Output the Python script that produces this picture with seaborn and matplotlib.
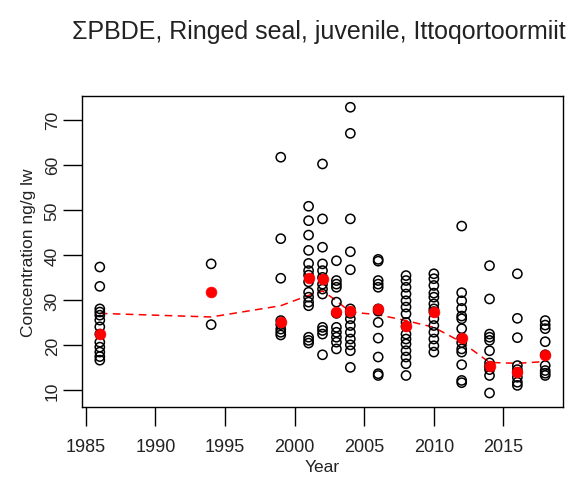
import seaborn as sns
import matplotlib
matplotlib.use("Agg")
import matplotlib.pyplot as plt
import pandas as pd

# individual samples per year (concentration ng/g lw)
obs_1986 = [37.3, 33.0, 28.0, 27.3, 26.6, 25.5, 24.0, 22.4, 20.6, 19.5, 18.4, 17.4, 16.6]
obs_1994 = [38.0, 24.5]
obs_1999 = [61.7, 43.6, 34.8, 25.4, 24.5, 23.5, 22.8, 22.2]
obs_2001 = [50.8, 47.6, 44.4, 41.0, 38.1, 36.5, 35.5, 34.0, 31.7, 30.6, 29.5, 28.7, 21.7, 21.0, 20.4]
obs_2002 = [60.2, 48.0, 41.7, 38.0, 36.5, 35.0, 33.5, 32.4, 31.3, 23.9, 23.2, 22.4, 17.8]
obs_2003 = [38.7, 34.3, 33.5, 32.8, 29.5, 27.0, 23.9, 22.8, 21.7, 20.6, 19.1]
obs_2004 = [72.8, 67.0, 48.0, 40.7, 36.7, 28.0, 27.0, 25.8, 24.3, 22.8, 21.3, 20.0, 18.7, 15.0]
obs_2006 = [39.0, 38.6, 34.3, 33.5, 32.8, 28.0, 27.5, 25.0, 21.5, 17.3, 13.6, 13.2]
obs_2008 = [35.4, 34.3, 32.8, 31.3, 29.8, 28.4, 26.9, 25.0, 24.1, 22.4, 21.3, 20.2, 18.7, 17.3, 15.8, 13.2]
obs_2010 = [35.8, 34.7, 33.2, 31.5, 30.6, 29.1, 28.0, 27.4, 25.8, 24.3, 22.8, 21.3, 19.8, 18.4]
obs_2012 = [46.4, 31.6, 29.8, 28.1, 26.4, 25.8, 23.6, 21.5, 20.5, 19.1, 18.4, 15.6, 12.1, 11.6]
obs_2014 = [37.6, 30.2, 22.4, 21.7, 21.0, 18.7, 16.0, 15.2, 14.5, 13.2, 9.3]
obs_2016 = [35.8, 25.9, 21.6, 15.4, 14.5, 13.9, 12.8, 11.7, 11.0]
obs_2018 = [25.4, 24.4, 23.6, 20.7, 17.8, 15.4, 14.3, 13.7, 13.2]

years = [1986, 1994, 1999, 2001, 2002, 2003, 2004, 2006, 2008, 2010, 2012, 2014, 2016, 2018]
all_obs = [obs_1986, obs_1994, obs_1999, obs_2001, obs_2002, obs_2003, obs_2004,
           obs_2006, obs_2008, obs_2010, obs_2012, obs_2014, obs_2016, obs_2018]

# yearly medians (red) and smoothed trend (dashed)
medians = [22.4, 31.7, 25.0, 34.8, 34.7, 27.4, 27.5, 28.0, 24.1, 27.4, 21.5, 15.2, 13.9, 17.8]
trend = [27.0, 26.2, 28.7, 31.0, 32.0, 29.8, 27.3, 26.7, 25.4, 23.9, 20.6, 16.1, 15.9, 16.3]

df = pd.DataFrame({
    "Year": [y for y, vals in zip(years, all_obs) for _ in vals],
    "Conc": [v for vals in all_obs for v in vals],
})
summ = pd.DataFrame({"Year": years, "Median": medians, "Trend": trend})

sns.set_style("white")
plt.rcParams["font.family"] = ["Liberation Sans", "DejaVu Sans"]

fig = plt.figure(figsize=(5.79, 4.81), dpi=100)
ax = fig.add_axes([0.1416, 0.1518, 0.8308, 0.6465])

sns.lineplot(data=summ, x="Year", y="Trend", ax=ax, color="red", lw=1.1,
             linestyle=(0, (5, 3.5)), zorder=2)
sns.scatterplot(data=df, x="Year", y="Conc", ax=ax, marker="o", s=44,
                facecolor="none", edgecolor="black", linewidth=1.1, zorder=3)
sns.scatterplot(data=summ, x="Year", y="Median", ax=ax, color="red", s=60,
                edgecolor="red", linewidth=0.5, zorder=4)

ax.set_xlim(1984.72, 2019.28)
ax.set_ylim(6.2, 75.3)
ax.set_xticks([1985, 1990, 1995, 2000, 2005, 2010, 2015])
ax.set_yticks([10, 20, 30, 40, 50, 60, 70])
for lab in ax.get_yticklabels():
    lab.set_rotation(90)
    lab.set_va("center")
ax.tick_params(axis="both", direction="out", length=14, width=1.0, color="black",
               labelsize=12.5, labelcolor="#222222", bottom=True, left=True)
ax.tick_params(axis="x", pad=8, labelsize=13)
ax.tick_params(axis="y", pad=2)
for sp in ax.spines.values():
    sp.set_visible(True)
    sp.set_color("black")
    sp.set_linewidth(1.0)

ax.set_xlabel("Year", fontsize=12.5, color="#222222", labelpad=3)
ax.set_ylabel("Concentration ng/g lw", fontsize=12.5, color="#222222", labelpad=6)
fig.text(0.551, 0.933, "\u03a3PBDE, Ringed seal, juvenile, Ittoqortoormiit",
         ha="center", va="center", fontsize=18, color="#222222")

fig.savefig("out.png", dpi=100)
